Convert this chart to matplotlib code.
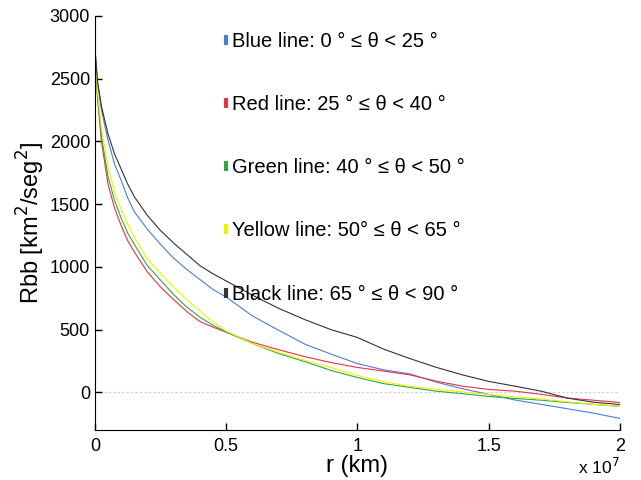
import matplotlib
matplotlib.use("Agg")
import matplotlib.pyplot as plt
from matplotlib.lines import Line2D
import numpy as np

plt.rcParams['font.family'] = ['Liberation Sans', 'DejaVu Sans']

# r in units of 1e7 km
r = [0, 0.01, 0.025, 0.05, 0.075, 0.1, 0.125, 0.15, 0.2, 0.25, 0.3, 0.35, 0.4, 0.45, 0.5,
     0.6, 0.7, 0.8, 0.9, 1.0, 1.1, 1.2, 1.3, 1.4, 1.5, 1.6, 1.7, 1.8, 1.9, 2.0]

black = [2750, 2480, 2280, 2060, 1900, 1780, 1660, 1560, 1410, 1290, 1190, 1100, 1010, 945, 888,
         775, 670, 580, 500, 438, 345, 270, 200, 140, 88, 50, 10, -45, -78, -96]
blue = [2750, 2470, 2250, 2010, 1820, 1690, 1550, 1440, 1300, 1180, 1070, 980, 900, 820, 760,
        610, 495, 385, 305, 230, 180, 148, 82, 30, -16, -60, -95, -130, -165, -207]
red = [2750, 2350, 2000, 1660, 1470, 1330, 1210, 1120, 960, 840, 740, 645, 565, 520, 480,
       400, 340, 285, 238, 199, 170, 140, 90, 50, 24, 10, -15, -45, -62, -80]
green = [2750, 2370, 2040, 1720, 1530, 1390, 1270, 1180, 1010, 895, 780, 680, 600, 535, 482,
         390, 310, 245, 175, 119, 70, 40, 10, -10, -32, -48, -62, -80, -95, -111]
yellow = [2750, 2400, 2100, 1800, 1600, 1460, 1340, 1240, 1060, 950, 840, 740, 650, 560, 490,
          390, 320, 255, 198, 135, 85, 48, 25, 5, -16, -35, -52, -75, -95, -111]

labels = ["Blue line: 0 \u00b0 \u2264 \u03b8 < 25 \u00b0",
          "Red line: 25 \u00b0 \u2264 \u03b8 < 40 \u00b0",
          "Green line: 40 \u00b0 \u2264 \u03b8 < 50 \u00b0",
          "Yellow line: 50\u00b0 \u2264 \u03b8 < 65 \u00b0",
          "Black line: 65 \u00b0 \u2264 \u03b8 < 90 \u00b0"]
xticks = [0, 0.5, 1, 1.5, 2]
xticklabels = ["0", "0.5", "1", "1.5", "2"]
yticks = [0, 500, 1000, 1500, 2000, 2500, 3000]

colors = ['#4a7fd0', '#e8304a', '#2aa84a', '#f0f000', '#333333']
series = [blue, red, green, yellow, black]

fig = plt.figure(figsize=(6.41, 4.8), dpi=100)
ax = fig.add_axes([0.148, 0.104, 0.819, 0.863])

ax.axhline(0, color='#d9c8d2', lw=0.8, ls=(0, (2, 2)), zorder=1)
for s, c in zip(series, colors):
    ax.plot(r, s, color=c, lw=0.8, zorder=2)

ax.set_xlim(0, 2)
ax.set_ylim(-300, 3000)
ax.set_xticks(xticks)
ax.set_xticklabels(xticklabels)
ax.set_yticks(yticks)
ax.tick_params(direction='in', length=5, labelsize=13, width=1)
ax.tick_params(axis='x', pad=6)
ax.spines['top'].set_visible(False)
ax.spines['right'].set_visible(False)
ax.set_xlabel("r (km)", fontsize=17, labelpad=0)
ax.set_ylabel("Rbb [km$^2$/seg$^2$]", fontsize=17, labelpad=2)
fig.text(0.967, 0.028, "x 10$^7$", ha='right', va='center', fontsize=12.5)

handles = [Line2D([], [], color=c, marker='|', linestyle='None', markersize=7, mew=3)
           for c in colors]
leg = ax.legend(handles, labels, loc='upper left', bbox_to_anchor=(0.227, 0.980),
                frameon=False, fontsize=14.5, labelspacing=2.19, handlelength=0.4,
                handletextpad=0.1, borderaxespad=0)

fig.savefig("out.png", dpi=100)
